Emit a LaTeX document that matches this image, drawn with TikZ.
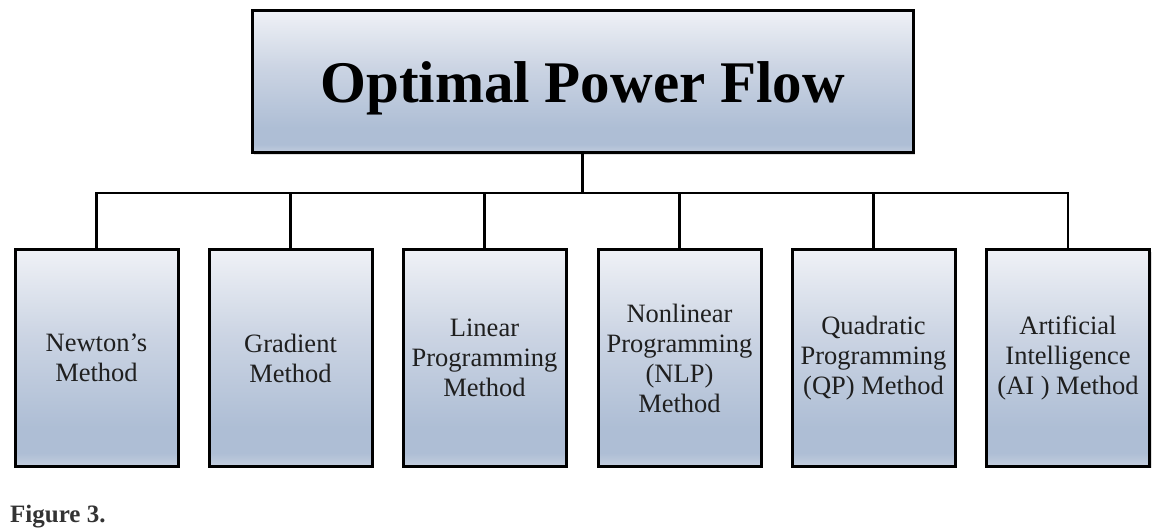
\documentclass[tikz,border=0pt]{standalone}
\usepackage{fontspec}
\setmainfont{Liberation Serif}
\usetikzlibrary{shadows}
\definecolor{bl}{HTML}{C3CEDE}
\definecolor{bbot}{HTML}{AEBED5}
\definecolor{bmid}{HTML}{CBD4E3}
\definecolor{btop}{HTML}{EFF1F6}
\pgfdeclareverticalshading{boxshade}{100bp}{color(0bp)=(bl); color(25bp)=(bl); color(28bp)=(bbot); color(34bp)=(bbot); color(55bp)=(bmid); color(75bp)=(btop); color(100bp)=(btop)}
\tikzset{
  basebox/.style={draw=black, line width=3pt, shading=boxshade, inner sep=0pt,
    drop shadow={opacity=0.25, shadow xshift=2pt, shadow yshift=-2pt}},
  titlebox/.style={basebox, minimum width=661pt, minimum height=142pt,
    font=\bfseries\fontsize{59}{61}\selectfont},
  methodbox/.style={basebox, minimum width=163pt, minimum height=216pt, align=center,
    text=black!88, font=\fontsize{26.5}{30}\selectfont},
  link/.style={draw=black, line width=2.5pt}
}
\begin{document}
\begin{tikzpicture}[x=1pt,y=-1pt]
\useasboundingbox (0,0) rectangle (1159,529);
\node[titlebox] (title) at (582.5,82) {\raisebox{-6pt}[\height][\depth]{Optimal Power Flow}};
\node[methodbox] (b1) at (96.5,358) {Newton’s\\Method};
\node[methodbox] (b2) at (290.5,358) {Gradient\\Method};
\node[methodbox] (b3) at (484.5,358) {Linear\\Programming\\Method};
\node[methodbox] (b4) at (679.5,358) {Nonlinear\\Programming\\(NLP)\\Method};
\node[methodbox] (b5) at (873.5,358) {Quadratic\\Programming\\(QP) Method};
\node[methodbox] (b6) at (1068,358) {Artificial\\Intelligence\\(AI ) Method};
\coordinate (bus) at (582.5,193);
\draw[link] (title.south) -- (bus);
\draw[link] (b1.north) |- (bus) -| (b6.north);
\foreach \i in {2,3,4,5} \draw[link] (b\i.north) -- (b\i.north |- bus);
\node[anchor=base west, inner sep=0pt, text=black!80, font=\bfseries\fontsize{25}{30}\selectfont] (fig) at (10,522) {Figure 3.};
\end{tikzpicture}
\end{document}
